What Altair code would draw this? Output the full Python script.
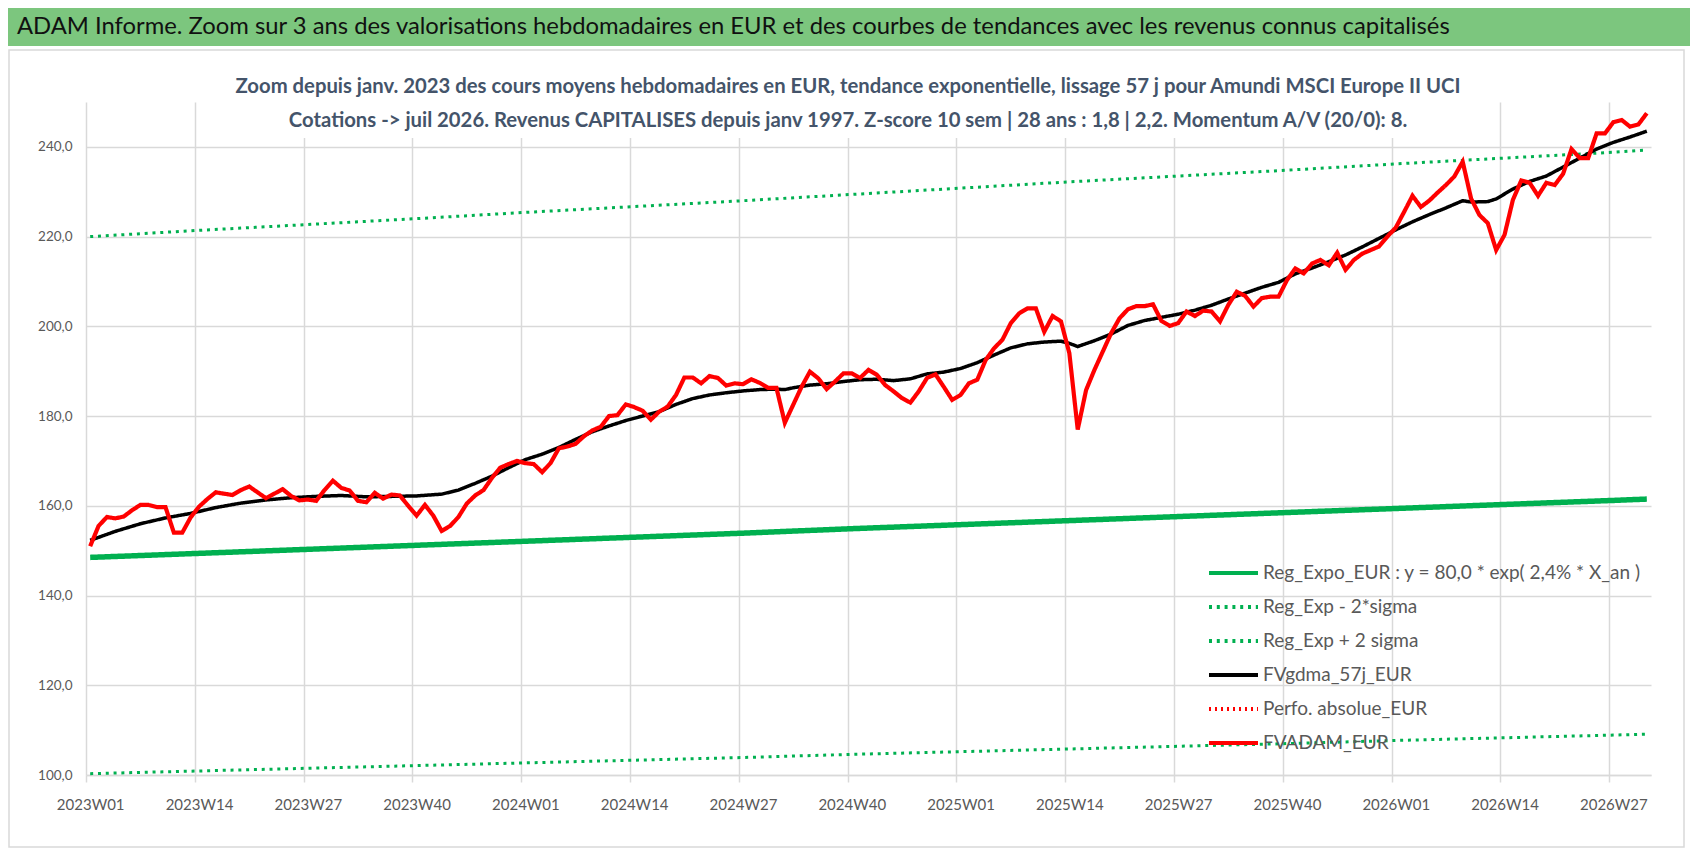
import json
import altair as alt
import pandas as pd

# ---------------- texts ----------------
title_text = ("ADAM Informe. Zoom sur 3 ans des valorisations hebdomadaires en EUR "
              "et des courbes de tendances avec les revenus connus capitalisés")
subtitle_1 = ("Zoom depuis janv. 2023 des cours moyens hebdomadaires en EUR, tendance exponentielle, "
              "lissage 57 j pour Amundi MSCI Europe II  UCI")
subtitle_2 = ("Cotations -> juil 2026. Revenus CAPITALISES depuis janv 1997. "
              "Z-score 10 sem | 28 ans : 1,8 | 2,2. Momentum A/V (20/0): 8.")

# ---------------- series definitions ----------------
series_names = [
    "Reg_Expo_EUR : y = 80,0 * exp( 2,4% *  X_an )",
    "Reg_Exp - 2*sigma",
    "Reg_Exp + 2 sigma",
    "FVgdma_57j_EUR",
    "Perfo. absolue_EUR",
    "FVADAM_EUR",
]
series_colors = ["#00B050", "#00B050", "#00B050", "#000000", "#FF0000", "#FF0000"]
series_dash = [[1, 0], [3, 4.8], [3, 4.8], [1, 0], [2, 4], [1, 0]]
series_widths = [5.5, 3, 3, 3.5, 2, 4.2]

# x axis tick labels (every 13 weeks)
week_labels = ["2023W01", "2023W14", "2023W27", "2023W40",
               "2024W01", "2024W14", "2024W27", "2024W40",
               "2025W01", "2025W14", "2025W27", "2025W40",
               "2026W01", "2026W14", "2026W27"]
y_ticks = [100, 120, 140, 160, 180, 200, 220, 240]

# trend lines read at the tick weeks and at the last week
trend_idx = [0, 13, 26, 39, 52, 65, 78, 91, 104, 117, 130, 143, 156, 169, 182, 186]
reg_expo = [148.5, 149.4, 150.3, 151.2, 152.1, 153.0, 153.9, 154.9,
            155.8, 156.7, 157.6, 158.5, 159.4, 160.3, 161.2, 161.5]
reg_low = [100.3, 100.9, 101.5, 102.1, 102.7, 103.3, 103.9, 104.6,
           105.2, 105.8, 106.4, 107.0, 107.7, 108.3, 108.9, 109.1]
reg_high = [220.0, 221.4, 222.7, 224.0, 225.4, 226.7, 228.0, 229.4,
            230.8, 232.2, 233.5, 234.8, 236.2, 237.5, 238.8, 239.3]

# smoothed line (FVgdma_57j_EUR)
gdma_idx = [0, 3, 6, 9, 12, 15, 18, 21, 24, 27, 30, 33, 36, 39, 42, 44, 46, 48, 50,
            52, 54, 56, 58, 60, 62, 64, 66, 68, 70, 72, 74, 76, 78, 80, 82, 83, 84,
            86, 88, 90, 92, 94, 96, 98, 100, 102, 104, 106, 108, 110, 112, 114, 116,
            117, 118, 120, 122, 124, 126, 128, 130, 132, 134, 136, 138, 140, 142, 144,
            146, 148, 150, 152, 154, 156, 158, 160, 162, 164, 165, 167, 168, 170, 172,
            174, 176, 178, 180, 182, 184, 186]
gdma_val = [152.3, 154.3, 156.0, 157.3, 158.3, 159.6, 160.6, 161.3, 161.8, 162.1,
            162.3, 162.0, 162.1, 162.2, 162.6, 163.5, 165.0, 166.6, 168.5,
            170.3, 171.5, 173.0, 174.8, 176.5, 177.8, 179.0, 180.0, 181.0, 182.6,
            183.9, 184.7, 185.2, 185.6, 185.9, 186.0, 185.9, 186.3,
            186.9, 187.2, 187.7, 188.1, 188.2, 187.9, 188.3, 189.4, 189.8, 190.6,
            191.9, 193.6, 195.2, 196.1, 196.5, 196.7,
            196.2, 195.5, 196.8, 198.3, 200.2, 201.3, 202.0, 202.7, 203.6, 204.7,
            206.1, 207.4, 208.7, 209.8, 211.7,
            213.0, 214.4, 215.9, 217.7, 219.6, 221.5, 223.3, 224.9, 226.4, 228.0,
            227.7, 227.8, 228.4, 230.6, 232.3,
            233.5, 235.5, 237.5, 239.5, 241.0, 242.2, 243.5]

# weekly valuations (FVADAM_EUR), weeks 0..186
adam_val = [
    151.0, 155.5, 157.5, 157.2, 157.6, 159.0, 160.2, 160.2, 159.7, 159.7,
    154.0, 154.0, 157.4, 159.8, 161.5, 163.0, 162.7, 162.4, 163.5, 164.3,
    163.0, 161.7, 162.7, 163.7, 162.2, 161.2, 161.4, 161.1, 163.5, 165.6,
    164.0, 163.4, 161.1, 160.8, 162.9, 161.6, 162.5, 162.3, 160.0, 157.8,
    160.2, 157.8, 154.4, 155.5, 157.5, 160.5, 162.3, 163.5, 166.2, 168.5,
    169.3, 170.0, 169.5, 169.3, 167.5, 169.5, 172.8, 173.2, 173.8, 175.5,
    176.8, 177.6, 180.0, 180.2, 182.6, 182.0, 181.2, 179.2, 181.0, 182.1,
    184.7, 188.6, 188.6, 187.3, 188.9, 188.5, 186.8, 187.3, 187.1, 188.2,
    187.4, 186.3, 186.3, 178.5, 182.5, 186.5, 189.9, 188.4, 186.0, 187.7,
    189.5, 189.5, 188.5, 190.3, 189.2, 186.9, 185.5, 184.0, 183.0, 185.5,
    188.5, 189.3, 186.5, 183.6, 184.7, 187.3, 188.1, 192.5, 195.1, 197.0,
    200.7, 202.9, 204.0, 204.0, 198.8, 202.3, 201.1, 194.0, 177.0, 185.8,
    190.3, 194.4, 198.5, 201.8, 203.8, 204.5, 204.5, 204.9, 201.2, 200.1,
    200.7, 203.3, 202.3, 203.5, 203.3, 201.1, 204.8, 207.7, 206.8, 204.4,
    206.3, 206.6, 206.6, 210.3, 212.9, 211.8, 214.0, 214.8, 213.6, 216.4,
    212.6, 214.8, 216.2, 217.0, 217.8, 220.0, 222.0, 225.5, 229.1, 226.6,
    228.0, 229.8, 231.5, 233.4, 236.7, 228.5, 224.8, 223.0, 217.0, 220.4,
    228.2, 232.5, 232.0, 229.1, 232.0, 231.5, 234.0, 239.5, 237.5, 237.5,
    243.0, 243.0, 245.5, 246.0, 244.5, 245.0, 247.5,
]

# ---------------- long table ----------------
rows = []
for i, v in zip(trend_idx, reg_expo):
    rows.append({"idx": i, "val": v, "series": series_names[0]})
for i, v in zip(trend_idx, reg_low):
    rows.append({"idx": i, "val": v, "series": series_names[1]})
for i, v in zip(trend_idx, reg_high):
    rows.append({"idx": i, "val": v, "series": series_names[2]})
for i, v in zip(gdma_idx, gdma_val):
    rows.append({"idx": i, "val": v, "series": series_names[3]})
for i, v in enumerate(adam_val):
    rows.append({"idx": i, "val": v, "series": series_names[5]})
df = pd.DataFrame(rows)

n_weeks = len(adam_val)
FONT = "Lato"
GRID = "#D9D9D9"
LABEL = "#595959"

label_array = json.dumps(week_labels)
x_enc = alt.X(
    "idx:Q",
    scale=alt.Scale(domain=[-0.5, n_weeks - 0.5], nice=False, zero=False),
    axis=alt.Axis(
        title=None,
        values=[13 * k - 0.5 for k in range(len(week_labels))],
        labelExpr=f"{label_array}[round((datum.value + 0.5) / 13)]",
        labelOffset=4.2,
        labelFlush=False,
        labelOverlap=False,
        labelPadding=15,
        labelFont=FONT,
        labelFontSize=15,
        labelColor=LABEL,
        grid=True,
        gridColor=GRID,
        gridWidth=1.5,
        ticks=True,
        tickSize=7,
        tickColor=GRID,
        tickWidth=1.5,
        domain=True,
        domainColor=GRID,
        domainWidth=1.5,
    ),
)
y_enc = alt.Y(
    "val:Q",
    scale=alt.Scale(domain=[100, 250], nice=False, zero=False),
    axis=alt.Axis(
        title=None,
        values=y_ticks,
        labelExpr="replace(format(datum.value, '.1f'), '.', ',')",
        labelPadding=14,
        labelFont=FONT,
        labelFontSize=13.5,
        labelColor=LABEL,
        grid=True,
        gridColor=GRID,
        gridWidth=1.5,
        ticks=False,
        domain=False,
    ),
)

legend_obj = alt.Legend(
    title=None,
    orient="none",
    legendX=1113.5,
    legendY=461.5,
    symbolType="M0,0H12",
    symbolSize=66.7,
    symbolStrokeWidth=4,
    rowPadding=14,
    padding=0,
    labelOffset=44.5,
    labelFont=FONT,
    labelFontSize=19,
    labelColor=LABEL,
    labelLimit=800,
)
color_enc = alt.Color("series:N", scale=alt.Scale(domain=series_names, range=series_colors),
                      legend=legend_obj)
dash_enc = alt.StrokeDash("series:N", scale=alt.Scale(domain=series_names, range=series_dash),
                          legend=legend_obj)

one = pd.DataFrame({"a": [0]})

green_bar = alt.Chart(one).mark_rect(color="#7CC67E").encode(
    x=alt.value(-78), x2=alt.value(1604), y=alt.value(-94), y2=alt.value(-56))
frame = alt.Chart(one).mark_rect(fillOpacity=0, stroke=GRID, strokeWidth=1.5).encode(
    x=alt.value(-77), x2=alt.value(1598), y=alt.value(-52), y2=alt.value(745))
title_box = alt.Chart(one).mark_rect(color="white").encode(
    x=alt.value(139), x2=alt.value(1384), y=alt.value(-40), y2=alt.value(36))

line_layers = []
for k in [0, 1, 2, 3, 5]:
    line_layers.append(
        alt.Chart(df)
        .transform_filter(alt.FieldEqualPredicate(field="series", equal=series_names[k]))
        .mark_line()
        .encode(x=x_enc, y=y_enc, color=color_enc, strokeDash=dash_enc,
                strokeWidth=alt.value(series_widths[k]))
    )


def text_layer(txt, x, y, size, color, weight, align):
    return alt.Chart(pd.DataFrame({"t": [txt]})).mark_text(
        align=align, baseline="middle", font=FONT, fontSize=size, color=color,
        fontWeight=weight,
    ).encode(x=alt.value(x), y=alt.value(y), text="t:N")


t_main = text_layer(title_text, -69, -75, 23.8, "#111111", "normal", "left")
t_sub1 = text_layer(subtitle_1, 762, -15.5, 20.3, "#44546A", "bold", "center")
t_sub2 = text_layer(subtitle_2, 762, 18.5, 20.3, "#44546A", "bold", "center")

chart = alt.layer(
    green_bar, frame, title_box, *line_layers, t_main, t_sub1, t_sub2
).properties(
    width=1565,
    height=673,
    padding={"left": 78, "top": 94, "right": 39, "bottom": 73},
    autosize=alt.AutoSizeParams(type="none"),
    background="white",
).configure_view(strokeWidth=0)

chart.save("out.html", embed_options={"renderer": "svg", "actions": False})
